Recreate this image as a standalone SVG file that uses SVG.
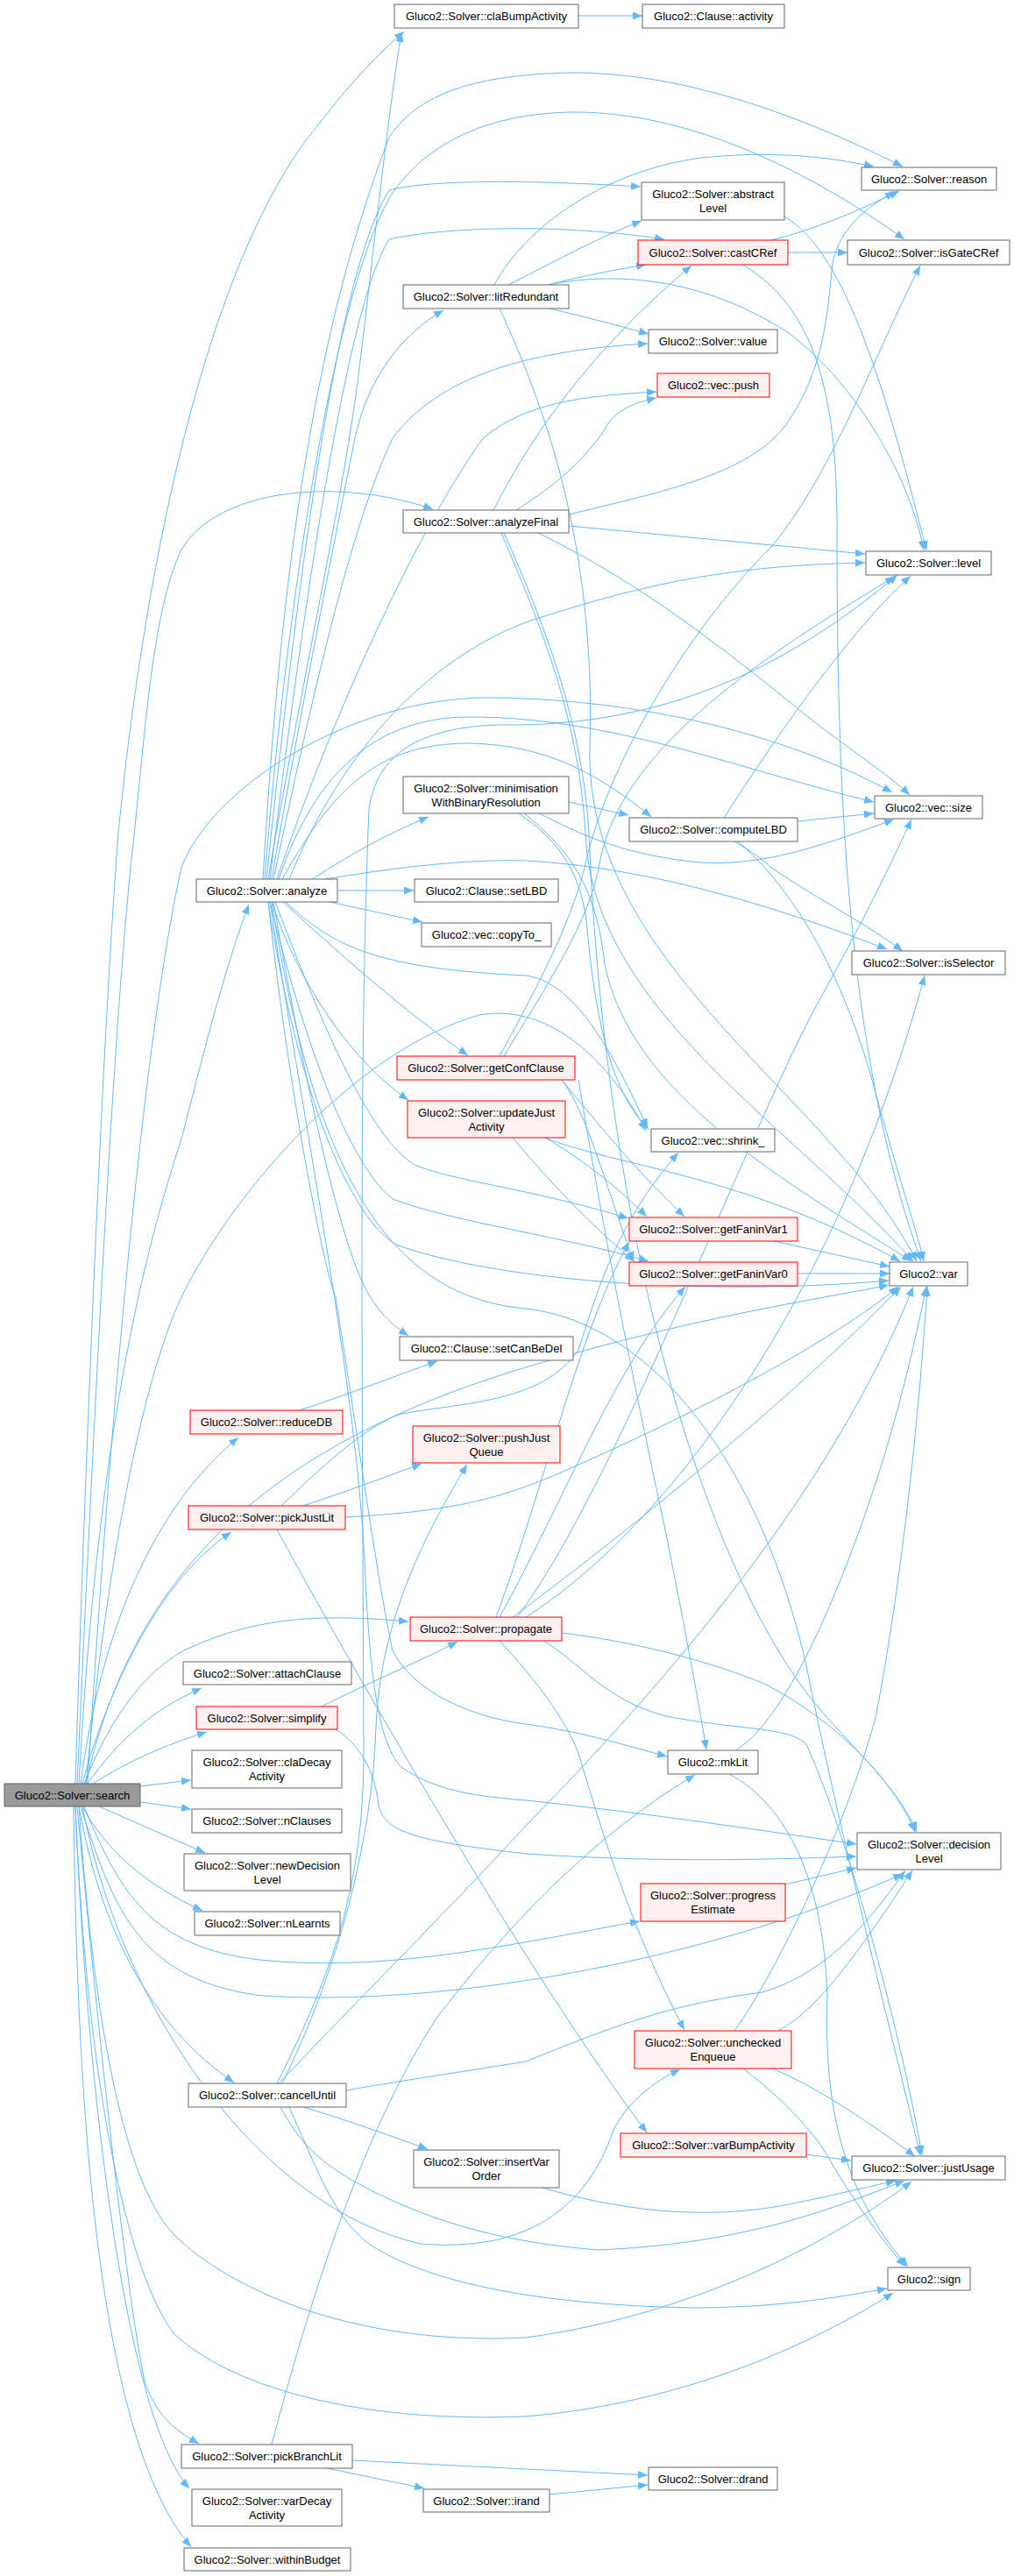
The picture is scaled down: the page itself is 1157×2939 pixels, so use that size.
<svg xmlns="http://www.w3.org/2000/svg" width="1157" height="2939" viewBox="0 0 1157 2939">
<style>
.e path{fill:none;stroke:#63b8ff;stroke-width:1;marker-end:url(#a)}
.n rect{fill:#fff;stroke:#666;stroke-width:1}
.r rect{fill:#fff0f0;stroke:#f00;stroke-width:1}
.root rect{fill:#999;stroke:#666;stroke-width:1}
text{font-family:"Liberation Sans",Arial,sans-serif;font-size:13px;text-anchor:middle;fill:#000}
</style>
<defs>
<marker id="a" markerWidth="11" markerHeight="9" refX="11" refY="4.5" orient="auto" markerUnits="userSpaceOnUse"><path d="M0,0 L11,4.5 L0,9 z" fill="#63b8ff"/></marker>
</defs>
<rect width="1157" height="2939" fill="#fff"/>
<g class="e" id="edges">
<path d="M660,18 L733,18"/>
<path d="M86,2035 C96,1700 116,1200 135,950 C165,650 230,330 344,167 C380,120 415,75 461,36"/>
<path d="M88,2035 C108,1600 128,1200 149,990 C165,850 172,700 207,627 C250,555 390,545 494,581"/>
<path d="M90,2035 C108,1700 150,1470 207,1300 C235,1190 258,1100 284,1032"/>
<path d="M92,2035 C115,1860 175,1720 272,1640"/>
<path d="M94,2035 C125,1920 185,1800 264,1748"/>
<path d="M96,2035 C130,1950 170,1905 210,1883 C300,1840 380,1843 466,1850"/>
<path d="M100,2035 C135,1985 175,1950 230,1926"/>
<path d="M106,2035 C145,2010 190,1990 236,1976"/>
<path d="M160,2038 L218,2031"/>
<path d="M160,2056 L218,2064"/>
<path d="M113,2061 L234,2114"/>
<path d="M94,2061 C120,2110 165,2150 231,2180"/>
<path d="M90,2061 C115,2200 170,2310 267,2376"/>
<path d="M88,2061 C115,2350 145,2620 165,2717 C178,2755 198,2772 227,2788"/>
<path d="M86,2061 C100,2400 145,2760 216,2839"/>
<path d="M84,2061 C88,2400 110,2780 218,2906"/>
<path d="M96,2061 C140,2170 180,2225 306,2237 C450,2250 600,2215 730,2192"/>
<path d="M92,2061 C130,2180 160,2260 300,2277 C500,2290 800,2240 1030,2138"/>
<path d="M86,2061 C100,2400 150,2600 199,2663 C260,2720 400,2765 600,2757 C800,2740 950,2660 1019,2616"/>
<path d="M90,2061 C110,2350 150,2500 199,2550 C260,2610 400,2677 600,2667 C800,2640 960,2550 1040,2489"/>
<path d="M98,2035 C150,1800 300,1650 600,1560 C800,1500 950,1480 1014,1466"/>
<path d="M100,2035 C120,1700 160,1200 207,990 C240,900 400,795 560,796 C760,798 920,850 1018,904"/>
<path d="M98,2035 C120,1800 160,1580 207,1480 C260,1370 400,1200 547,1158 C620,1145 690,1200 737,1290"/>
<path d="M94,2061 C140,2300 300,2520 480,2560 C600,2570 670,2520 700,2430 C715,2400 745,2375 776,2361"/>
<path d="M306,1003 C340,800 395,550 410,420 C425,300 440,150 458,37"/>
<path d="M300,1003 C318,700 350,400 444,157 C480,100 560,85 650,83 C770,82 900,125 1030,190"/>
<path d="M302,1003 C326,700 380,330 448,220 C490,160 560,130 650,128 C790,126 930,200 1032,273"/>
<path d="M304,1003 C336,700 380,320 444,217 C490,205 600,205 731,213"/>
<path d="M308,1003 C345,700 395,350 444,273 C490,262 620,252 758,273"/>
<path d="M310,1003 C345,800 385,600 405,500 C420,430 460,380 506,354"/>
<path d="M312,1003 C355,800 400,600 448,500 C500,430 600,400 739,392"/>
<path d="M316,1003 C385,800 480,600 551,500 C600,460 660,452 749,447"/>
<path d="M330,1003 C380,880 470,760 600,710 C750,660 850,645 987,642"/>
<path d="M356,1003 C400,975 440,952 489,932"/>
<path d="M322,1003 C380,900 430,848 536,848 C620,850 680,880 743,932"/>
<path d="M318,1003 C360,880 430,818 536,818 C700,818 850,880 997,915"/>
<path d="M385,1016 L472,1016"/>
<path d="M376,1029 L482,1052"/>
<path d="M371,1003 C450,990 530,980 600,982 C750,990 900,1040 1012,1083"/>
<path d="M323,1029 C400,1100 470,1160 534,1204"/>
<path d="M310,1029 C340,1120 400,1210 466,1255"/>
<path d="M326,1029 C380,1080 430,1105 600,1113 C650,1120 690,1180 739,1287"/>
<path d="M314,1029 C360,1150 420,1300 475,1330 C530,1350 600,1355 717,1390"/>
<path d="M308,1029 C350,1200 400,1330 448,1368 C520,1395 640,1410 740,1439"/>
<path d="M306,1029 C340,1250 400,1390 452,1420 C560,1460 800,1480 1014,1461"/>
<path d="M312,1029 C350,1250 390,1420 417,1470 C430,1495 445,1510 466,1524"/>
<path d="M306,1029 C330,1250 370,1450 383,1480 C410,1650 430,1800 448,1883 C470,1930 540,1960 600,1967 C660,1975 710,1990 761,2004"/>
<path d="M308,1029 C350,1300 410,1600 417,1803 C422,1900 430,1990 459,2017 C500,2045 550,2050 600,2054 C750,2070 880,2090 977,2104"/>
<path d="M310,1029 C360,1350 450,1480 600,1493 C750,1510 870,1680 920,1900 C960,2100 1020,2330 1050,2459"/>
<path d="M564,325 C600,258 690,195 800,180 C880,172 940,178 997,190"/>
<path d="M580,325 C630,300 680,272 732,252"/>
<path d="M625,325 C660,316 700,308 737,302"/>
<path d="M627,352 C670,362 700,370 740,381"/>
<path d="M625,325 C700,310 800,315 900,380 C980,440 1040,550 1054,628"/>
<path d="M570,352 C620,460 680,620 673,850 C665,1100 950,1250 1046,1439"/>
<path d="M880,274 C930,262 980,240 1026,218"/>
<path d="M899,288 L967,288"/>
<path d="M847,302 C930,350 955,450 955,600 C955,900 965,1200 1051,1439"/>
<path d="M895,247 C960,285 1005,420 1057,628"/>
<path d="M563,582 C590,530 650,420 789,303"/>
<path d="M589,582 C640,550 670,520 690,490 C700,470 720,460 749,454"/>
<path d="M649,587 C760,560 860,540 900,480 C940,420 944,360 950,300 C958,260 990,235 1021,219"/>
<path d="M649,600 L987,632"/>
<path d="M614,608 C720,660 800,720 900,800 C960,850 1010,880 1038,907"/>
<path d="M572,608 C620,720 660,820 668,950 C675,1150 900,1280 1042,1439"/>
<path d="M575,608 C625,720 665,830 672,950 C690,1400 800,1800 944,1960 C990,2010 1030,2050 1046,2090"/>
<path d="M649,915 L717,930"/>
<path d="M615,928 C660,950 700,972 788,983 C870,992 950,960 1020,935"/>
<path d="M592,928 C640,960 665,1000 670,1060 C680,1170 700,1250 740,1288"/>
<path d="M598,928 C650,970 680,1010 690,1100 C720,1250 900,1350 1040,1439"/>
<path d="M910,937 L997,928"/>
<path d="M826,933 C880,850 960,730 1039,657"/>
<path d="M838,960 C855,970 870,980 880,990 C940,1030 990,1055 1030,1085"/>
<path d="M842,960 C900,1010 960,1100 1000,1250 C1030,1360 1045,1400 1054,1439"/>
<path d="M570,1205 C600,1150 650,1060 667,990 C690,880 780,723 881,623 C950,540 1000,400 1050,303"/>
<path d="M575,1205 C620,1130 675,1050 685,980 C710,860 850,760 1021,658"/>
<path d="M641,1232 C680,1280 730,1340 781,1388"/>
<path d="M641,1232 C670,1270 690,1350 723,1439"/>
<path d="M660,1232 C680,1350 700,1470 760,1750 C780,1850 795,1930 806,1996"/>
<path d="M622,1298 C660,1320 700,1350 738,1388"/>
<path d="M585,1298 C620,1340 670,1395 724,1439"/>
<path d="M622,1298 C700,1330 850,1340 1027,1439"/>
<path d="M883,1416 L1015,1445"/>
<path d="M910,1453 L1015,1453"/>
<path d="M342,1609 C400,1590 450,1570 499,1553"/>
<path d="M346,1718 C400,1700 440,1685 481,1670"/>
<path d="M394,1731 C500,1725 560,1715 640,1680 C800,1610 950,1530 1025,1468"/>
<path d="M316,1745 C400,1900 600,2250 738,2433"/>
<path d="M321,1718 C380,1660 430,1620 459,1613 C530,1600 620,1600 660,1540 C680,1480 700,1400 774,1315"/>
<path d="M566,1845 C620,1700 660,1520 718,1417"/>
<path d="M570,1845 C640,1720 700,1560 782,1468"/>
<path d="M585,1845 C700,1760 900,1600 1028,1468"/>
<path d="M590,1845 C700,1700 850,1300 930,1150 C980,1060 1010,1000 1040,935"/>
<path d="M600,1845 C750,1750 950,1500 1055,1113"/>
<path d="M641,1863 C700,1870 787,1887 870,1920 C950,1960 1020,2030 1044,2090"/>
<path d="M570,1872 C600,1905 640,1950 660,2000 C690,2100 720,2200 781,2316"/>
<path d="M620,1872 C660,1895 690,1940 760,1958 C850,1975 900,1970 920,1990 C970,2100 1030,2330 1052,2459"/>
<path d="M840,1997 C880,1970 920,1900 960,1800 C1000,1700 1030,1600 1057,1468"/>
<path d="M832,2024 C900,2060 940,2150 944,2278 C940,2400 960,2500 1036,2586"/>
<path d="M346,2404 C400,2420 440,2435 488,2452"/>
<path d="M395,2385 C450,2375 520,2365 600,2352 C680,2320 757,2287 870,2273 C950,2250 1000,2180 1033,2134"/>
<path d="M318,2377 C420,2270 520,2170 600,2083 C760,1920 950,1700 1042,1468"/>
<path d="M316,2377 C380,2250 415,2150 415,2000 C413,1500 410,1200 421,923 C430,860 478,830 570,827 C760,830 900,760 1024,656"/>
<path d="M322,2377 C385,2250 425,2100 429,1970 C433,1880 460,1790 533,1671"/>
<path d="M320,2404 C340,2440 360,2470 440,2507 C520,2545 600,2560 682,2567 C850,2560 950,2520 1032,2488"/>
<path d="M330,2404 C360,2470 380,2530 421,2560 C480,2600 600,2630 795,2633 C900,2632 960,2620 1012,2611"/>
<path d="M619,2496 C700,2520 800,2535 900,2515 C950,2505 990,2495 1022,2488"/>
<path d="M920,2458 L971,2465"/>
<path d="M888,2317 C920,2300 960,2260 1041,2134"/>
<path d="M881,2360 C930,2380 990,2420 1044,2460"/>
<path d="M848,2360 C900,2400 935,2440 950,2470 C980,2520 1010,2560 1033,2586"/>
<path d="M838,2317 C880,2260 960,2100 999,1960 C1030,1800 1050,1600 1058,1468"/>
<path d="M896,2150 L977,2131"/>
<path d="M310,2789 C360,2600 420,2420 500,2300 C600,2170 700,2080 793,2025"/>
<path d="M402,2807 C500,2812 620,2818 739,2824"/>
<path d="M373,2816 L484,2839"/>
<path d="M627,2846 L739,2835"/>
<path d="M367,1947 C420,1920 480,1895 522,1873"/>
<path d="M383,1973 C410,1990 428,2020 432,2060 C440,2090 470,2100 600,2115 C750,2125 870,2122 977,2118"/>
</g>
<g id="n_search" class="root"><rect x="5" y="2035" width="155" height="26"/><text x="82.5" y="2053">Gluco2::Solver::search</text></g>
<g id="n_claBump" class="n"><rect x="450" y="5" width="210" height="27"/><text x="555" y="23">Gluco2::Solver::claBumpActivity</text></g>
<g id="n_activity" class="n"><rect x="733" y="5" width="162" height="27"/><text x="814" y="23">Gluco2::Clause::activity</text></g>
<g id="n_reason" class="n"><rect x="983" y="191" width="154" height="26"/><text x="1060" y="209">Gluco2::Solver::reason</text></g>
<g id="n_abstract" class="n"><rect x="732" y="208" width="163" height="43"/><text x="813.5" y="226">Gluco2::Solver::abstract</text><text x="813.5" y="242">Level</text></g>
<g id="n_castCRef" class="r"><rect x="728" y="274" width="171" height="28"/><text x="813.5" y="293">Gluco2::Solver::castCRef</text></g>
<g id="n_isGate" class="n"><rect x="967" y="274" width="185" height="28"/><text x="1059.5" y="293">Gluco2::Solver::isGateCRef</text></g>
<g id="n_litRed" class="n"><rect x="460" y="325" width="189" height="27"/><text x="554.5" y="343">Gluco2::Solver::litRedundant</text></g>
<g id="n_value" class="n"><rect x="740" y="376" width="147" height="27"/><text x="813.5" y="394">Gluco2::Solver::value</text></g>
<g id="n_push" class="r"><rect x="750" y="426" width="128" height="27"/><text x="814" y="444">Gluco2::vec::push</text></g>
<g id="n_analyzeFinal" class="n"><rect x="460" y="582" width="189" height="26"/><text x="554.5" y="600">Gluco2::Solver::analyzeFinal</text></g>
<g id="n_level" class="n"><rect x="988" y="629" width="143" height="27"/><text x="1059.5" y="647">Gluco2::Solver::level</text></g>
<g id="n_minim" class="n"><rect x="460" y="886" width="189" height="42"/><text x="554.5" y="904">Gluco2::Solver::minimisation</text><text x="554.5" y="920">WithBinaryResolution</text></g>
<g id="n_size" class="n"><rect x="998" y="908" width="123" height="26"/><text x="1059.5" y="926">Gluco2::vec::size</text></g>
<g id="n_computeLBD" class="n"><rect x="718" y="933" width="192" height="27"/><text x="814" y="951">Gluco2::Solver::computeLBD</text></g>
<g id="n_analyze" class="n"><rect x="224" y="1003" width="161" height="26"/><text x="304.5" y="1021">Gluco2::Solver::analyze</text></g>
<g id="n_setLBD" class="n"><rect x="473" y="1003" width="164" height="26"/><text x="555" y="1021">Gluco2::Clause::setLBD</text></g>
<g id="n_copyTo" class="n"><rect x="481" y="1053" width="148" height="27"/><text x="555" y="1071">Gluco2::vec::copyTo_</text></g>
<g id="n_isSelector" class="n"><rect x="972" y="1085" width="175" height="27"/><text x="1059.5" y="1103">Gluco2::Solver::isSelector</text></g>
<g id="n_getConf" class="r"><rect x="453" y="1205" width="203" height="27"/><text x="554.5" y="1223">Gluco2::Solver::getConfClause</text></g>
<g id="n_updJust" class="r"><rect x="465" y="1256" width="180" height="42"/><text x="555" y="1274">Gluco2::Solver::updateJust</text><text x="555" y="1290">Activity</text></g>
<g id="n_shrink" class="n"><rect x="743" y="1288" width="141" height="26"/><text x="813.5" y="1306">Gluco2::vec::shrink_</text></g>
<g id="n_fv1" class="r"><rect x="718" y="1389" width="192" height="27"/><text x="814" y="1407">Gluco2::Solver::getFaninVar1</text></g>
<g id="n_fv0" class="r"><rect x="718" y="1440" width="192" height="27"/><text x="814" y="1458">Gluco2::Solver::getFaninVar0</text></g>
<g id="n_var" class="n"><rect x="1015" y="1440" width="89" height="27"/><text x="1059.5" y="1458">Gluco2::var</text></g>
<g id="n_setCan" class="n"><rect x="456" y="1525" width="198" height="27"/><text x="555" y="1543">Gluco2::Clause::setCanBeDel</text></g>
<g id="n_reduceDB" class="r"><rect x="217" y="1609" width="174" height="27"/><text x="304" y="1627">Gluco2::Solver::reduceDB</text></g>
<g id="n_pushJQ" class="r"><rect x="471" y="1627" width="168" height="42"/><text x="555" y="1645">Gluco2::Solver::pushJust</text><text x="555" y="1661">Queue</text></g>
<g id="n_pickJust" class="r"><rect x="215" y="1718" width="179" height="27"/><text x="304.5" y="1736">Gluco2::Solver::pickJustLit</text></g>
<g id="n_propagate" class="r"><rect x="468" y="1845" width="173" height="27"/><text x="554.5" y="1863">Gluco2::Solver::propagate</text></g>
<g id="n_attach" class="n"><rect x="209" y="1896" width="192" height="26"/><text x="305" y="1914">Gluco2::Solver::attachClause</text></g>
<g id="n_simplify" class="r"><rect x="224" y="1947" width="161" height="26"/><text x="304.5" y="1965">Gluco2::Solver::simplify</text></g>
<g id="n_claDecay" class="n"><rect x="219" y="1997" width="171" height="43"/><text x="304.5" y="2015">Gluco2::Solver::claDecay</text><text x="304.5" y="2031">Activity</text></g>
<g id="n_mkLit" class="n"><rect x="762" y="1997" width="103" height="27"/><text x="813.5" y="2015">Gluco2::mkLit</text></g>
<g id="n_nClauses" class="n"><rect x="219" y="2064" width="171" height="27"/><text x="304.5" y="2082">Gluco2::Solver::nClauses</text></g>
<g id="n_decLevel" class="n"><rect x="978" y="2091" width="164" height="42"/><text x="1060" y="2109">Gluco2::Solver::decision</text><text x="1060" y="2125">Level</text></g>
<g id="n_newDec" class="n"><rect x="210" y="2115" width="190" height="42"/><text x="305" y="2133">Gluco2::Solver::newDecision</text><text x="305" y="2149">Level</text></g>
<g id="n_progress" class="r"><rect x="731" y="2149" width="165" height="43"/><text x="813.5" y="2167">Gluco2::Solver::progress</text><text x="813.5" y="2183">Estimate</text></g>
<g id="n_nLearnts" class="n"><rect x="222" y="2181" width="166" height="27"/><text x="305" y="2199">Gluco2::Solver::nLearnts</text></g>
<g id="n_unchecked" class="r"><rect x="724" y="2317" width="179" height="43"/><text x="813.5" y="2335">Gluco2::Solver::unchecked</text><text x="813.5" y="2351">Enqueue</text></g>
<g id="n_cancel" class="n"><rect x="215" y="2377" width="180" height="27"/><text x="305" y="2395">Gluco2::Solver::cancelUntil</text></g>
<g id="n_varBump" class="r"><rect x="708" y="2434" width="212" height="27"/><text x="814" y="2452">Gluco2::Solver::varBumpActivity</text></g>
<g id="n_insertVar" class="n"><rect x="472" y="2453" width="166" height="43"/><text x="555" y="2471">Gluco2::Solver::insertVar</text><text x="555" y="2487">Order</text></g>
<g id="n_justUsage" class="n"><rect x="972" y="2460" width="175" height="27"/><text x="1059.5" y="2478">Gluco2::Solver::justUsage</text></g>
<g id="n_sign" class="n"><rect x="1013" y="2587" width="94" height="26"/><text x="1060" y="2605">Gluco2::sign</text></g>
<g id="n_pickBranch" class="n"><rect x="207" y="2789" width="195" height="27"/><text x="304.5" y="2807">Gluco2::Solver::pickBranchLit</text></g>
<g id="n_drand" class="n"><rect x="740" y="2815" width="147" height="26"/><text x="813.5" y="2833">Gluco2::Solver::drand</text></g>
<g id="n_irand" class="n"><rect x="483" y="2840" width="144" height="26"/><text x="555" y="2858">Gluco2::Solver::irand</text></g>
<g id="n_varDecay" class="n"><rect x="219" y="2840" width="171" height="42"/><text x="304.5" y="2858">Gluco2::Solver::varDecay</text><text x="304.5" y="2874">Activity</text></g>
<g id="n_within" class="n"><rect x="210" y="2907" width="190" height="26"/><text x="305" y="2925">Gluco2::Solver::withinBudget</text></g>
</svg>
